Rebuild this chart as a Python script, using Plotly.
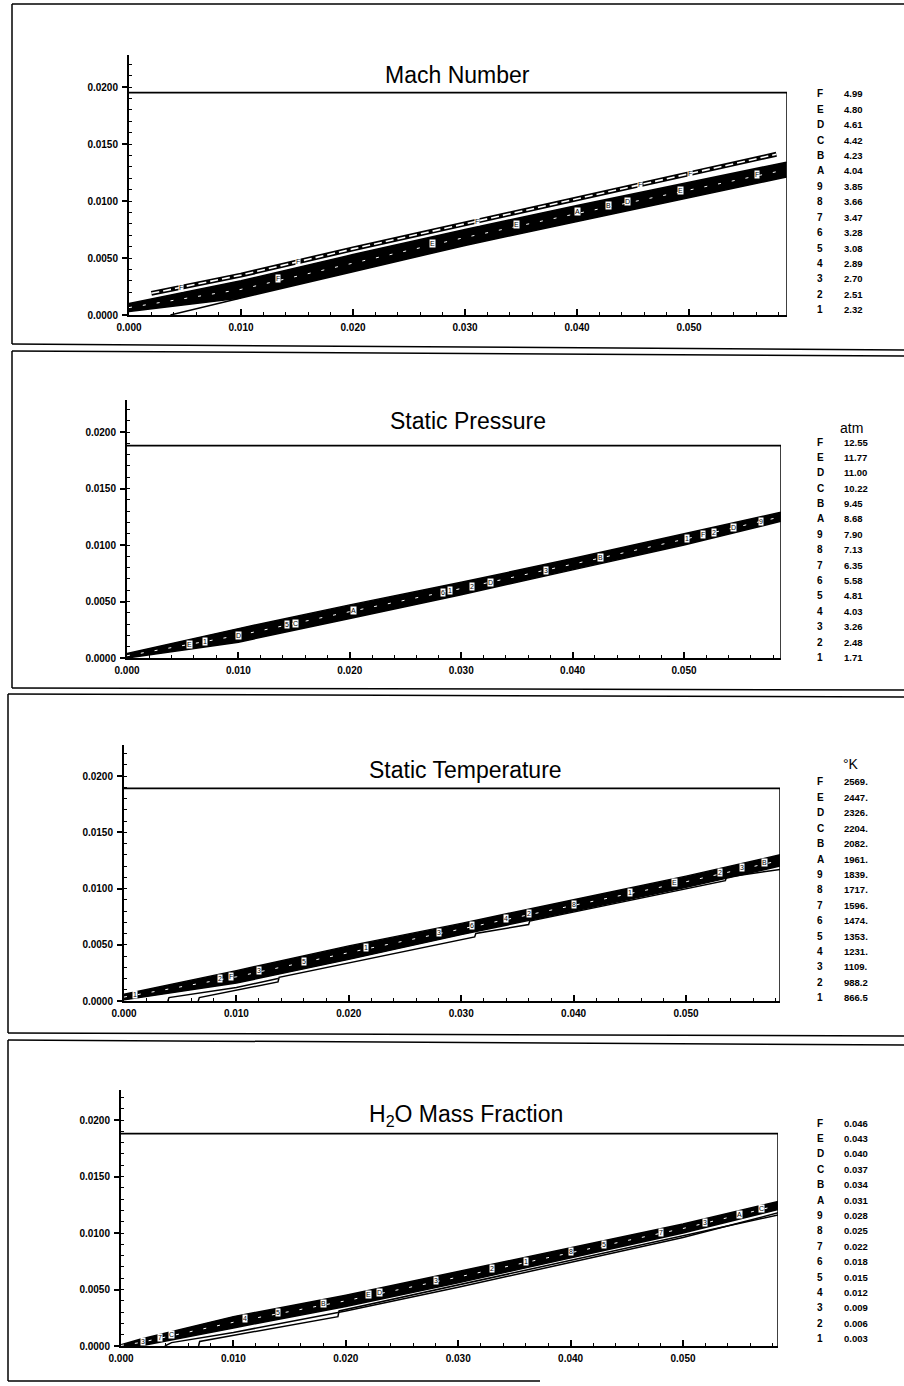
import numpy as np
import plotly.graph_objects as go

W, H = 904, 1386

# ---------------- data ----------------
LEVELS = ["F", "E", "D", "C", "B", "A", "9", "8", "7", "6", "5", "4", "3", "2", "1"]
MACH_VALUES = ["4.99", "4.80", "4.61", "4.42", "4.23", "4.04", "3.85", "3.66", "3.47", "3.28",
               "3.08", "2.89", "2.70", "2.51", "2.32"]
PRESSURE_VALUES = ["12.55", "11.77", "11.00", "10.22", "9.45", "8.68", "7.90", "7.13", "6.35", "5.58",
                   "4.81", "4.03", "3.26", "2.48", "1.71"]
TEMPERATURE_VALUES = ["2569.", "2447.", "2326.", "2204.", "2082.", "1961.", "1839.", "1717.", "1596.",
                      "1474.", "1353.", "1231.", "1109.", "988.2", "866.5"]
H2O_VALUES = ["0.046", "0.043", "0.040", "0.037", "0.034", "0.031", "0.028", "0.025", "0.022",
              "0.018", "0.015", "0.012", "0.009", "0.006", "0.003"]

TITLES = ["Mach Number", "Static Pressure", "Static Temperature", "H<sub>2</sub>O Mass Fraction"]
UNITS = ["", "atm", "°K", ""]

# Mach number contours
MACH_BAND_X = [0.0, 0.010, 0.020, 0.030, 0.040, 0.050, 0.0587]
MACH_BAND_LOW = [0.0003, 0.0015, 0.0038, 0.0061, 0.0082, 0.0103, 0.0121]
MACH_BAND_HIGH = [0.0010, 0.0030, 0.0053, 0.0075, 0.0096, 0.0116, 0.0134]
MACH_F_X = [0.0020, 0.010, 0.020, 0.030, 0.040, 0.050, 0.0578]
MACH_F_Y = [0.0019, 0.0035, 0.0058, 0.0080, 0.0102, 0.0124, 0.0141]
MACH_WALL_X = [0.0037, 0.0100]
MACH_WALL_Y = [0.0000, 0.0015]
MACH_F_LABEL_X = [0.0046, 0.0151, 0.0311, 0.0456, 0.0501]
MACH_LABEL_TEXT = ["F", "E", "E", "A", "B", "D", "E", "F"]
MACH_LABEL_X = [0.0133, 0.0271, 0.0346, 0.0400, 0.0428, 0.0445, 0.0492, 0.0561]

# Static pressure contours
PRESSURE_BAND_X = [0.0, 0.010, 0.020, 0.030, 0.040, 0.050, 0.0587]
PRESSURE_BAND_LOW = [0.0000, 0.0014, 0.0035, 0.0056, 0.0078, 0.0100, 0.0121]
PRESSURE_BAND_HIGH = [0.0004, 0.0026, 0.0047, 0.0067, 0.0088, 0.0110, 0.0129]
PRESSURE_LABEL_TEXT = ["E", "1", "D", "5", "C", "A", "6", "1", "2", "D", "3", "B", "1", "F", "2", "D", "9"]
PRESSURE_LABEL_X = [0.0056, 0.0070, 0.0100, 0.0144, 0.0151, 0.0203, 0.0284, 0.0290, 0.0310, 0.0326,
                    0.0376, 0.0425, 0.0503, 0.0517, 0.0527, 0.0544, 0.0569]

# Static temperature contours
TEMP_BAND_X = [0.0, 0.010, 0.020, 0.030, 0.040, 0.050, 0.0584]
TEMP_BAND_LOW = [0.0001, 0.0016, 0.0037, 0.0059, 0.0080, 0.0101, 0.0120]
TEMP_BAND_HIGH = [0.0006, 0.0027, 0.0049, 0.0069, 0.0090, 0.0111, 0.0130]
TEMP_LINE_A_X = [0.0066, 0.0067, 0.0137, 0.0138, 0.0312, 0.0313, 0.0360, 0.0361, 0.0535, 0.0536, 0.0584]
TEMP_LINE_A_Y = [0.0000, 0.0003, 0.0017, 0.0021, 0.0057, 0.0060, 0.0068, 0.0071, 0.0107, 0.0110, 0.0117]
TEMP_LINE_B_X = [0.0039, 0.0040, 0.0100, 0.0137]
TEMP_LINE_B_Y = [0.0000, 0.0003, 0.0012, 0.0020]
TEMP_LABEL_TEXT = ["1", "2", "F", "3", "5", "1", "3", "6", "4", "2", "8", "1", "E", "2", "3", "B"]
TEMP_LABEL_X = [0.0010, 0.0085, 0.0095, 0.0120, 0.0160, 0.0215, 0.0280, 0.0310, 0.0340, 0.0360,
                0.0400, 0.0450, 0.0490, 0.0530, 0.0550, 0.0570]

# H2O mass fraction contours
H2O_BAND_X = [0.0, 0.0017, 0.010, 0.020, 0.030, 0.040, 0.050, 0.0585]
H2O_BAND_LOW = [0.0000, 0.0000, 0.0016, 0.0035, 0.0056, 0.0078, 0.0100, 0.0121]
H2O_BAND_HIGH = [0.0001, 0.0006, 0.0026, 0.0045, 0.0066, 0.0087, 0.0108, 0.0128]
H2O_LINE_A_X = [0.0069, 0.0070, 0.0193, 0.0194, 0.0585]
H2O_LINE_A_Y = [0.0000, 0.0004, 0.0026, 0.0031, 0.0116]
H2O_LINE_B_X = [0.0039, 0.0045, 0.0100, 0.0200, 0.0300, 0.0400, 0.0500, 0.0585]
H2O_LINE_B_Y = [0.0000, 0.0003, 0.0012, 0.0031, 0.0052, 0.0074, 0.0096, 0.0118]
H2O_LABEL_TEXT = ["3", "7", "C", "4", "5", "B", "E", "D", "3", "2", "1", "8", "5", "7", "3", "A", "C"]
H2O_LABEL_X = [0.0020, 0.0035, 0.0045, 0.0110, 0.0140, 0.0180, 0.0220, 0.0230, 0.0280, 0.0330,
               0.0360, 0.0400, 0.0430, 0.0480, 0.0520, 0.0550, 0.0570]

X_DTICK = 0.010
Y_DTICK = 0.005

# ---------------- layout geometry (pixels) ----------------
XL = [129, 127, 124, 121]       # px of x = 0
X50 = [689, 684, 686, 683]      # px of x = 0.050
XR = [787, 781, 780, 778]       # px of right frame
Y0 = [315, 658, 1001, 1346]     # px of y = 0
Y20 = [87, 432, 776, 1120]      # px of y = 0.020
YT = [55, 400, 745, 1090]       # px of axis top
BOX_TOP = [0.0195, 0.0188, 0.0189, 0.0188]
TITLE_POS = [(458, 75), (468, 421), (465, 770), (466, 1115)]
LEG_F_Y = [94, 442, 782, 1123]
LEG_STEP = 15.4
UNIT_Y = [0, 428, 764, 0]

FONT = "Liberation Sans, Arial, sans-serif"


def fx(px):
    return px / W


def fy(py):
    return 1 - py / H


fig = go.Figure()
layout = dict(template="none", width=W, height=H,
              margin=dict(l=0, r=0, t=0, b=0, pad=0, autoexpand=False),
              paper_bgcolor="white", plot_bgcolor="white", showlegend=False)
annotations = []
shapes = []

panel_values = [MACH_VALUES, PRESSURE_VALUES, TEMPERATURE_VALUES, H2O_VALUES]

for i in range(4):
    n = "" if i == 0 else str(i + 1)
    xr, yr = "x" + n, "y" + n
    xmax = (XR[i] - XL[i]) / (X50[i] - XL[i]) * 0.05
    ymax = (Y0[i] - YT[i]) / (Y0[i] - Y20[i]) * 0.02
    tickfont = dict(family=FONT, size=10, color="black", weight="bold")
    layout["xaxis" + n] = dict(
        domain=[fx(XL[i]), fx(XR[i])], range=[0, xmax], anchor=yr, automargin=False,
        tick0=0, dtick=X_DTICK, tickformat=".3f", ticks="inside", ticklen=6, tickwidth=1.5,
        tickcolor="black", showline=True, linewidth=2, linecolor="black",
        showgrid=False, zeroline=False, tickfont=tickfont, ticklabelstandoff=2,
        minor=dict(tick0=0, dtick=0.002, ticks="inside", ticklen=3, tickwidth=1, tickcolor="black",
                   showgrid=False),
        fixedrange=True)
    layout["yaxis" + n] = dict(
        domain=[fy(Y0[i]), fy(YT[i])], range=[0, ymax], anchor=xr, automargin=False,
        tick0=0, dtick=Y_DTICK, tickformat=".4f", ticks="outside", ticklen=5, tickwidth=1.5,
        tickcolor="black", showline=True, linewidth=2, linecolor="black",
        showgrid=False, zeroline=False, tickfont=tickfont, ticklabelstandoff=2,
        minor=dict(tick0=0, dtick=0.001, ticks="inside", ticklen=3, tickwidth=1, tickcolor="black",
                   showgrid=False),
        fixedrange=True)
    # plot box: top line and right line
    shapes.append(dict(type="line", xref=xr, yref=yr, x0=0, x1=xmax, y0=BOX_TOP[i], y1=BOX_TOP[i],
                       line=dict(color="black", width=1.8)))
    shapes.append(dict(type="line", xref=xr, yref=yr, x0=xmax, x1=xmax, y0=0, y1=BOX_TOP[i],
                       line=dict(color="black", width=1.5)))
    # title
    tx, ty = TITLE_POS[i]
    annotations.append(dict(xref="paper", yref="paper", x=fx(tx), y=fy(ty), text=TITLES[i],
                            showarrow=False, xanchor="center", yanchor="middle",
                            font=dict(family=FONT, size=23, color="black")))
    # unit
    if UNITS[i]:
        annotations.append(dict(xref="paper", yref="paper", x=fx(851), y=fy(UNIT_Y[i]), text=UNITS[i],
                                showarrow=False, xanchor="center", yanchor="middle",
                                font=dict(family=FONT, size=14, color="black")))
    # level legend
    for k, (lev, val) in enumerate(zip(LEVELS, panel_values[i])):
        yy = fy(LEG_F_Y[i] + k * LEG_STEP)
        annotations.append(dict(xref="paper", yref="paper", x=fx(820), y=yy, text=lev,
                                showarrow=False, xanchor="center", yanchor="middle",
                                font=dict(family=FONT, size=10, color="black", weight="bold")))
        annotations.append(dict(xref="paper", yref="paper", x=fx(842), y=yy, text=val,
                                showarrow=False, xanchor="left", yanchor="middle",
                                font=dict(family=FONT, size=9.5, color="black", weight="bold")))


def line(x, y, xr, yr, width=1.2, color="black", dash=None, fill=None):
    fig.add_trace(go.Scatter(x=x, y=y, mode="lines", xaxis=xr, yaxis=yr, hoverinfo="skip",
                             line=dict(color=color, width=width, dash=dash),
                             fill=fill, fillcolor="black" if fill else None))


def band(bx, low, high, xr, yr):
    line(bx, low, xr, yr, width=1.5)
    line(bx, high, xr, yr, width=1.5, fill="tonexty")
    mid = [(a + b) / 2 for a, b in zip(low, high)]
    line(bx, mid, xr, yr, width=1.0, color="white", dash="3px,11px")


def labels(texts, xs, bx, low, high, xr, yr, frac=0.5):
    for t, x in zip(texts, xs):
        yl = np.interp(x, bx, low)
        yh = np.interp(x, bx, high)
        annotations.append(dict(xref=xr, yref=yr, x=x, y=yl + frac * (yh - yl), text=t,
                                showarrow=False, bgcolor="white", borderpad=0,
                                font=dict(family=FONT, size=7, color="black")))


# Panel 1: Mach
band(MACH_BAND_X, MACH_BAND_LOW, MACH_BAND_HIGH, "x", "y")
line(MACH_WALL_X, MACH_WALL_Y, "x", "y", width=1.5)
line(MACH_F_X, MACH_F_Y, "x", "y", width=5)
line(MACH_F_X, MACH_F_Y, "x", "y", width=1.6, color="white", dash="8px,4px")
labels(MACH_LABEL_TEXT, MACH_LABEL_X, MACH_BAND_X, MACH_BAND_LOW, MACH_BAND_HIGH, "x", "y", 0.6)
labels(["F"] * len(MACH_F_LABEL_X), MACH_F_LABEL_X, MACH_F_X, MACH_F_Y, MACH_F_Y, "x", "y")

# Panel 2: Pressure
band(PRESSURE_BAND_X, PRESSURE_BAND_LOW, PRESSURE_BAND_HIGH, "x2", "y2")
labels(PRESSURE_LABEL_TEXT, PRESSURE_LABEL_X, PRESSURE_BAND_X, PRESSURE_BAND_LOW, PRESSURE_BAND_HIGH,
       "x2", "y2")

# Panel 3: Temperature
band(TEMP_BAND_X, TEMP_BAND_LOW, TEMP_BAND_HIGH, "x3", "y3")
line(TEMP_LINE_A_X, TEMP_LINE_A_Y, "x3", "y3", width=1.5)
line(TEMP_LINE_B_X, TEMP_LINE_B_Y, "x3", "y3", width=1.5)
labels(TEMP_LABEL_TEXT, TEMP_LABEL_X, TEMP_BAND_X, TEMP_BAND_LOW, TEMP_BAND_HIGH, "x3", "y3", 0.6)

# Panel 4: H2O
band(H2O_BAND_X, H2O_BAND_LOW, H2O_BAND_HIGH, "x4", "y4")
line(H2O_LINE_A_X, H2O_LINE_A_Y, "x4", "y4", width=1.5)
line(H2O_LINE_B_X, H2O_LINE_B_Y, "x4", "y4", width=1.5)
labels(H2O_LABEL_TEXT, H2O_LABEL_X, H2O_BAND_X, H2O_BAND_LOW, H2O_BAND_HIGH, "x4", "y4", 0.6)

# Panel frames (scanned page boxes)
FRAMES = [
    ((12, 4), (904, 4), (12, 344), (904, 350)),
    ((12, 351), (904, 356), (12, 688), (904, 690)),
    ((8, 694), (904, 697), (8, 1033), (904, 1036)),
    ((8, 1040), (904, 1045), (8, 1381), (540, 1381)),
]
for (tl, tr, bl, br) in FRAMES:
    for a, b in ((tl, tr), (bl, br), (tl, bl)):
        shapes.append(dict(type="line", xref="paper", yref="paper", x0=fx(a[0]), y0=fy(a[1]),
                           x1=fx(b[0]), y1=fy(b[1]), line=dict(color="black", width=1.5)))

layout["annotations"] = annotations
layout["shapes"] = shapes
fig.update_layout(**layout)
fig.write_html("out.html",
               post_script="document.body.style.margin='0';document.body.style.overflow='hidden';")
